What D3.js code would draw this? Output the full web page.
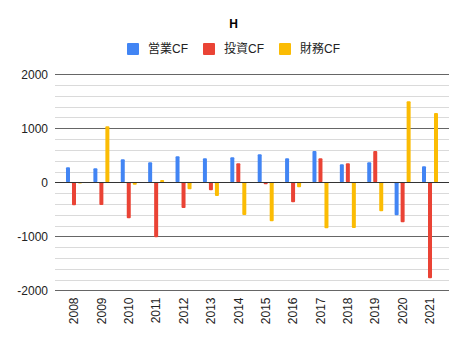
<!DOCTYPE html>
<html>
<head>
<meta charset="utf-8">
<script src="https://cdn.jsdelivr.net/npm/d3@7"></script>
<style>
  html, body { margin: 0; padding: 0; background: #fff; }
  svg { display: block; font-family: "Liberation Sans", Arial, "Noto Sans CJK JP", sans-serif; }
</style>
</head>
<body>
<svg id="chart" width="467" height="342"></svg>
<script>
// Cash flow by fiscal year
const years = ["2008","2009","2010","2011","2012","2013","2014","2015","2016","2017","2018","2019","2020","2021"];
const seriesNames = ["営業CF", "投資CF", "財務CF"];
const operatingCF = [278, 259, 426, 370, 481, 444, 463, 518, 444, 580, 333, 370, -611, 296];
const investingCF = [-426, -420, -667, -1019, -476, -148, 352, -37, -370, 444, 352, 580, -741, -1778];
const financingCF = [-20, 1037, -44, 43, -130, -254, -605, -722, -93, -852, -845, -537, 1500, 1283];
const yTicks = [-2000, -1000, 0, 1000, 2000];
const colors = ["#4285F4", "#EA4335", "#FBBC04"];

const seriesValues = [operatingCF, investingCF, financingCF];

const svg = d3.select("#chart");

const y = d3.scaleLinear().domain([-2000, 2000]).range([290.3, 74.3]);
const x0 = d3.scaleBand().domain(years).range([60.3, 443.7]);
const x1 = d3.scaleBand().domain(seriesNames).range([-9, 9]).paddingInner(1/3).paddingOuter(1/6);

const gridLeft = 55, gridRight = 449;

// minor gridlines
const minor = d3.range(-2000, 2001, 200).filter(v => v % 1000 !== 0);
svg.append("g").selectAll("line").data(minor).join("line")
  .attr("x1", gridLeft).attr("x2", gridRight)
  .attr("y1", d => Math.round(y(d)) + 0.5).attr("y2", d => Math.round(y(d)) + 0.5)
  .attr("stroke", "#dadada").attr("stroke-width", 1);

// major gridlines
svg.append("g").selectAll("line").data(yTicks.filter(v => v !== 0)).join("line")
  .attr("x1", gridLeft).attr("x2", gridRight)
  .attr("y1", d => Math.round(y(d)) + 0.5).attr("y2", d => Math.round(y(d)) + 0.5)
  .attr("stroke", "#666").attr("stroke-width", 1);

// y axis labels
svg.append("g").selectAll("text").data(yTicks).join("text")
  .attr("x", 48).attr("y", d => y(d))
  .attr("dy", "0.35em")
  .attr("text-anchor", "end")
  .attr("font-size", 12).attr("fill", "#222")
  .text(d => d);

// bars
const groups = svg.append("g").selectAll("g").data(years).join("g")
  .attr("transform", d => `translate(${x0(d) + x0.bandwidth() / 2},0)`);

groups.selectAll("rect")
  .data((yr, i) => seriesNames.map((s, k) => ({ s, k, v: seriesValues[k][i] })))
  .join("rect")
  .attr("x", d => x1(d.s))
  .attr("width", x1.bandwidth())
  .attr("y", d => Math.min(y(d.v), y(0)))
  .attr("height", d => Math.abs(y(d.v) - y(0)))
  .attr("rx", 1)
  .attr("fill", d => colors[d.k]);

// zero line
svg.append("line")
  .attr("x1", gridLeft).attr("x2", gridRight)
  .attr("y1", Math.round(y(0)) + 0.5).attr("y2", Math.round(y(0)) + 0.5)
  .attr("stroke", "#333").attr("stroke-width", 1);

// x axis labels (rotated)
svg.append("g").selectAll("text").data(years).join("text")
  .attr("transform", d => `translate(${x0(d) + x0.bandwidth() / 2},297.5) rotate(-90)`)
  .attr("dy", "0.35em")
  .attr("text-anchor", "end")
  .attr("font-size", 12).attr("fill", "#222")
  .text(d => d);

// title
svg.append("text")
  .attr("x", 233.5).attr("y", 28)
  .attr("text-anchor", "middle")
  .attr("font-size", 12).attr("font-weight", "bold").attr("fill", "#000")
  .text("H");

// legend
const legendX = [127, 203, 279];
const legend = svg.append("g").selectAll("g").data(seriesNames).join("g")
  .attr("transform", (d, i) => `translate(${legendX[i]},43)`);
legend.append("rect")
  .attr("width", 12).attr("height", 12).attr("rx", 1)
  .attr("fill", (d, i) => colors[i]);
legend.append("text")
  .attr("x", 21).attr("y", 6).attr("dy", "0.35em")
  .attr("font-size", 12).attr("fill", "#222")
  .text(d => d);
</script>
</body>
</html>
